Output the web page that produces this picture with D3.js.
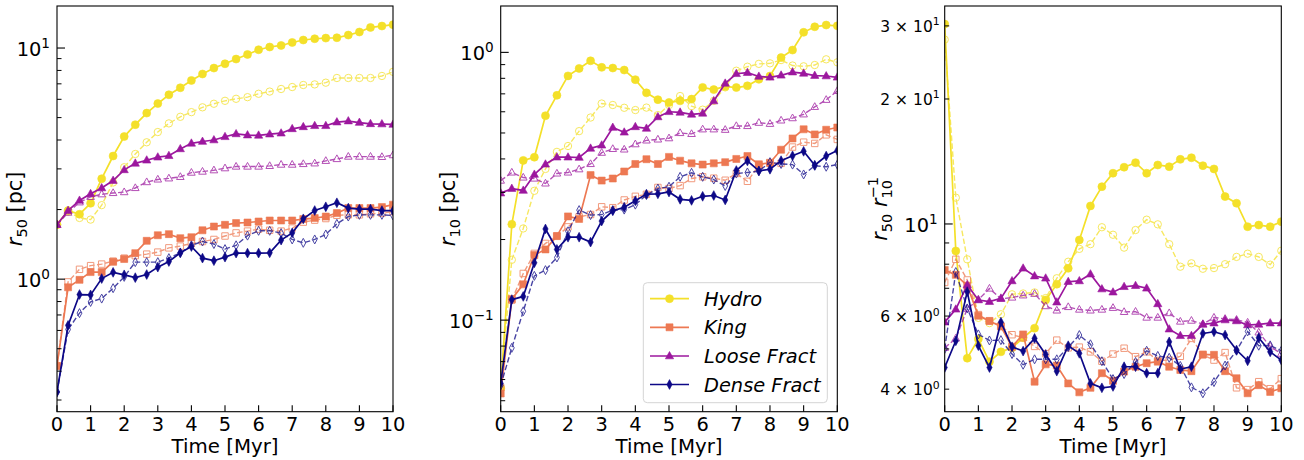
<!DOCTYPE html>
<html><head><meta charset="utf-8">
<script src="https://cdn.jsdelivr.net/npm/d3@7"></script>
<style>body{margin:0;background:#fff;} svg{display:block;font-family:'DejaVu Sans',sans-serif;} text{white-space:pre;}</style>
</head><body><svg id="c" width="1304" height="460"></svg>
<script>
const time = [0,0.33,0.67,1,1.33,1.67,2,2.33,2.67,3,3.33,3.67,4,4.33,4.67,5,5.33,5.67,6,6.33,6.67,7,7.33,7.67,8,8.33,8.67,9,9.33,9.67,10];
const labels = ["Hydro","King","Loose Fract","Dense Fract"];
const colors = ["#f4e02a","#ed7953","#9c179e","#0d0887"];
const markers = ["circle","square","triangle","thin_diamond"];
const xTicks = [0,1,2,3,4,5,6,7,8,9,10];

// r50 [pc] : solid (filled) and dashed (open)
const r50Hydro = [1.72,1.98,1.91,2.13,2.72,3.41,4.14,4.66,5.23,5.75,6.28,6.73,7.24,7.72,8.19,8.55,8.96,9.38,9.83,10.1,10.26,10.57,10.83,10.97,11.04,11.08,11.38,11.73,12.28,12.45,12.62];
const r50HydroOpen = [1.72,1.96,1.84,1.81,2.09,2.62,3.05,3.48,3.91,4.33,4.72,5.04,5.28,5.54,5.74,5.91,6.03,6.13,6.34,6.48,6.65,6.78,6.92,6.96,7.08,7.42,7.42,7.42,7.42,7.57,7.89];
const r50King = [0.421,0.922,0.993,1.073,1.073,1.188,1.222,1.296,1.465,1.549,1.566,1.504,1.519,1.627,1.689,1.718,1.748,1.758,1.776,1.794,1.794,1.794,1.819,1.837,1.866,1.931,2.03,2.03,2.03,2.05,2.10];
const r50KingOpen = [0.421,0.973,1.103,1.144,1.162,1.196,1.233,1.264,1.283,1.309,1.366,1.390,1.427,1.455,1.485,1.537,1.585,1.614,1.646,1.627,1.614,1.663,1.765,1.800,1.829,1.889,1.898,1.898,1.917,1.931,1.961];
const r50Loose = [1.72,1.98,2.19,2.34,2.48,2.67,2.97,3.17,3.27,3.37,3.42,3.66,3.87,3.94,4.00,4.13,4.25,4.20,4.19,4.24,4.28,4.47,4.56,4.61,4.61,4.78,4.83,4.76,4.70,4.69,4.67];
const r50LooseOpen = [1.72,1.94,2.15,2.27,2.33,2.36,2.38,2.48,2.63,2.70,2.73,2.77,2.89,2.92,2.96,3.02,3.07,3.07,3.07,3.09,3.13,3.13,3.15,3.17,3.25,3.31,3.39,3.39,3.39,3.38,3.44];
const r50Dense = [0.325,0.631,0.858,0.855,1.006,1.070,1.044,1.015,1.047,1.127,1.192,1.300,1.384,1.233,1.202,1.245,1.296,1.296,1.296,1.300,1.475,1.586,1.824,1.981,2.056,2.14,2.03,2.01,2.01,1.98,1.98];
const r50DenseOpen = [0.325,0.606,0.713,0.797,0.824,0.914,1.023,1.185,1.185,1.185,1.233,1.300,1.401,1.455,1.419,1.349,1.401,1.543,1.619,1.619,1.582,1.485,1.436,1.485,1.561,1.735,1.866,1.898,1.898,1.898,1.885];

// r10 [pc]
const r10Hydro = [0.0556,0.228,0.395,0.406,0.580,0.691,0.817,0.871,0.930,0.879,0.874,0.859,0.791,0.706,0.666,0.650,0.659,0.669,0.740,0.726,0.746,0.739,0.750,0.793,0.816,0.956,1.020,1.188,1.246,1.265,1.256];
const r10HydroOpen = [0.056,0.168,0.220,0.304,0.367,0.425,0.447,0.508,0.571,0.644,0.636,0.621,0.609,0.622,0.583,0.636,0.687,0.630,0.611,0.659,0.740,0.854,0.884,0.906,0.910,0.936,0.893,0.887,0.897,0.942,0.918];
const r10King = [0.0532,0.1198,0.136,0.175,0.1837,0.206,0.244,0.2388,0.348,0.332,0.338,0.359,0.383,0.399,0.383,0.407,0.394,0.385,0.381,0.385,0.389,0.400,0.410,0.382,0.387,0.433,0.477,0.516,0.494,0.514,0.524];
const r10KingOpen = [0.056,0.1188,0.1494,0.1775,0.1934,0.206,0.223,0.243,0.248,0.265,0.263,0.281,0.290,0.295,0.313,0.310,0.318,0.338,0.343,0.339,0.333,0.353,0.330,0.378,0.385,0.385,0.443,0.462,0.457,0.492,0.473];
const r10Loose = [0.298,0.310,0.305,0.350,0.382,0.406,0.406,0.405,0.438,0.450,0.524,0.503,0.527,0.520,0.574,0.600,0.597,0.587,0.592,0.658,0.766,0.832,0.840,0.813,0.807,0.821,0.844,0.835,0.819,0.816,0.807];
const r10LooseOpen = [0.332,0.356,0.341,0.338,0.324,0.353,0.356,0.366,0.383,0.422,0.436,0.434,0.454,0.469,0.473,0.478,0.500,0.496,0.516,0.516,0.514,0.531,0.531,0.546,0.541,0.557,0.568,0.587,0.626,0.665,0.718];
const r10Dense = [0.058,0.1193,0.1226,0.1637,0.219,0.1837,0.204,0.204,0.1956,0.2344,0.256,0.264,0.279,0.2955,0.2963,0.301,0.2826,0.280,0.290,0.292,0.281,0.362,0.393,0.361,0.366,0.394,0.411,0.427,0.379,0.410,0.430];
const r10DenseOpen = [0.057,0.0788,0.1079,0.1463,0.1537,0.1714,0.2147,0.2576,0.2468,0.2478,0.2576,0.2587,0.270,0.293,0.310,0.315,0.343,0.355,0.343,0.335,0.317,0.3527,0.356,0.360,0.389,0.383,0.381,0.350,0.377,0.374,0.381];

// r50 / r10
const ratioHydro = [30.3,8.61,4.75,5.28,4.66,4.92,5.03,5.32,5.61,6.56,7.16,7.82,9.15,11.05,12.30,13.25,13.70,14.05,13.25,13.87,13.74,14.31,14.44,13.82,13.57,11.64,11.22,9.85,9.94,9.85,10.13];
const ratioHydroOpen = [27.8,11.57,8.22,5.94,5.77,6.06,6.77,6.80,6.84,6.63,7.40,8.11,8.71,8.94,9.82,9.42,8.77,9.67,10.24,9.98,8.94,7.89,8.04,7.80,7.83,8.00,8.33,8.48,8.33,7.98,8.62];
const ratioKing = [7.75,7.54,7.10,6.01,5.84,5.66,5.06,5.42,4.17,4.59,4.56,4.13,3.93,4.03,4.37,4.19,4.41,4.53,4.62,4.66,4.53,4.45,4.42,4.85,4.84,4.42,4.25,3.91,4.09,3.94,4.02];
const ratioKingOpen = [7.23,8.22,7.33,6.05,5.84,5.68,5.41,5.32,5.07,4.87,5.25,5.03,5.05,4.92,4.67,4.86,5.02,4.79,4.92,4.69,4.70,4.80,5.30,4.84,4.70,4.90,4.03,3.99,4.17,4.01,4.24];
const ratioLoose = [5.80,6.23,7.13,6.56,6.50,6.62,7.29,7.82,7.49,7.40,6.48,7.26,7.29,7.57,6.97,6.85,7.06,7.10,7.00,6.42,5.58,5.38,5.38,5.73,5.77,5.87,5.84,5.71,5.73,5.77,5.77];
const ratioLooseOpen = [5.03,5.30,6.25,6.57,6.99,6.60,6.65,6.73,6.79,6.34,6.19,6.31,6.22,6.19,6.22,6.28,6.14,6.15,5.95,5.95,6.10,5.82,5.85,5.74,5.95,5.91,5.88,5.79,5.48,5.07,4.87];
const ratioDense = [4.51,5.23,6.87,5.09,4.51,5.80,5.06,4.94,5.30,4.85,4.42,5.09,4.88,4.13,4.03,4.06,4.53,4.53,4.37,4.37,5.20,4.47,4.53,5.45,5.50,5.40,4.97,4.68,5.32,4.92,4.70];
const ratioDenseOpen = [5.0,7.66,6.26,5.42,5.24,5.25,4.86,4.58,4.72,4.72,4.72,5.05,5.40,5.13,4.67,4.23,4.35,4.65,4.95,4.81,4.76,4.55,4.04,3.91,4.16,4.56,4.95,5.51,5.09,5.10,4.95];

// tick definitions
const p1Major = [1,10], p1MajorExp = ["0","1"];
const p1Minor = [0.3,0.4,0.5,0.6,0.7,0.8,0.9,2,3,4,5,6,7,8,9];
const p2Major = [0.1,1], p2MajorExp = ["\u22121","0"];
const p2Minor = [0.05,0.06,0.07,0.08,0.09,0.2,0.3,0.4,0.5,0.6,0.7,0.8,0.9];
const p3Major = [10], p3MajorExp = ["1"];
const p3Minor = [4,5,6,7,8,9,20,30];
const p3MinorLabeled = [4,6,20,30], p3MinorMant = ["4","6","2","3"], p3MinorExp = ["0","0","1","1"];

const svg = d3.select("#c");
const TOP = 6, BOT = 411.7;

const panels = [
  {x0:57, x1:393, domain:[0.267,15.2], solid:[r50Hydro,r50King,r50Loose,r50Dense], open:[r50HydroOpen,r50KingOpen,r50LooseOpen,r50DenseOpen],
   major:p1Major, majorExp:p1MajorExp, minor:p1Minor, minorLab:[], ylab:[{t:"r",it:1},{t:"50",pos:"sub"},{t:"\u00a0[pc]"}], labX:22},
  {x0:500.7, x1:837.3, domain:[0.0455,1.49], solid:[r10Hydro,r10King,r10Loose,r10Dense], open:[r10HydroOpen,r10KingOpen,r10LooseOpen,r10DenseOpen],
   major:p2Major, majorExp:p2MajorExp, minor:p2Minor, minorLab:[], ylab:[{t:"r",it:1},{t:"10",pos:"sub"},{t:"\u00a0[pc]"}], labX:455, legend:true},
  {x0:944.7, x1:1281.3, domain:[3.53,33.5], solid:[ratioHydro,ratioKing,ratioLoose,ratioDense], open:[ratioHydroOpen,ratioKingOpen,ratioLooseOpen,ratioDenseOpen],
   major:p3Major, majorExp:p3MajorExp, minor:p3Minor, minorLab:p3MinorLabeled,
   ylab:[{t:"r",it:1},{t:"50",pos:"sub"},{t:"\u00a0"},{t:"r",it:1},{t:"\u22121",pos:"sup"},{t:"10",pos:"sub",stack:1}], labX:887}
];

function markerPath(type, s){
  const h = s/2;
  if(type==="circle") return d3.symbol(d3.symbolCircle, Math.PI*h*h)();
  if(type==="square") return `M${-h},${-h}H${h}V${h}H${-h}Z`;
  if(type==="triangle") return `M0,${-h*1.2}L${h*1.1},${h*0.75}L${-h*1.1},${h*0.75}Z`;
  return `M0,${-h*1.15}L${h*0.62},0L0,${h*1.15}L${-h*0.62},0Z`;
}
const mSize = {circle:8, square:7, triangle:7.5, thin_diamond:8.5};

function mathText(g, parts, fs){
  let x = 0, lastStart = 0;
  parts.forEach(p=>{
    const pos = p.pos||"base";
    const size = pos==="base" ? fs : fs*0.7;
    const dy = pos==="sub" ? fs*0.24 : pos==="sup" ? -fs*0.42 : 0;
    const start = p.stack ? lastStart : x;
    const t = g.append("text").attr("x",start).attr("y",dy).attr("font-size",size)
      .attr("font-style",p.it?"italic":"normal").attr("fill","#000").text(p.t);
    const w = t.node().getComputedTextLength();
    if(!p.stack) lastStart = start;
    x = Math.max(x, start+w);
  });
  return x;
}

panels.forEach((P,pi)=>{
  const x = d3.scaleLinear().domain([0,10]).range([P.x0,P.x1]);
  const y = d3.scaleLog().domain(P.domain).range([BOT,TOP]);
  const g = svg.append("g");
  const cid = "clip"+pi;
  svg.append("clipPath").attr("id",cid).append("rect").attr("x",P.x0).attr("y",TOP).attr("width",P.x1-P.x0).attr("height",BOT-TOP);
  const plot = g.append("g").attr("clip-path",`url(#${cid})`);
  const line = d3.line().x((d,i)=>x(time[i])).y(d=>y(d));
  for(let k=0;k<4;k++){
    const s = plot.append("g");
    s.append("path").attr("d",line(P.solid[k])).attr("fill","none").attr("stroke",colors[k]).attr("stroke-width",1.7);
    s.selectAll("path.m").data(P.solid[k]).enter().append("path").attr("class","m")
      .attr("d",markerPath(markers[k],mSize[markers[k]]))
      .attr("transform",(d,i)=>`translate(${x(time[i])},${y(d)})`)
      .attr("fill",colors[k]).attr("stroke",colors[k]).attr("stroke-width",0.6);
    const o = plot.append("g").attr("opacity",0.75);
    o.append("path").attr("d",line(P.open[k])).attr("fill","none").attr("stroke",colors[k]).attr("stroke-width",1.4).attr("stroke-dasharray","5.5,2.5");
    o.selectAll("path.m").data(P.open[k]).enter().append("path").attr("class","m")
      .attr("d",markerPath(markers[k],mSize[markers[k]]*0.92))
      .attr("transform",(d,i)=>`translate(${x(time[i])},${y(d)})`)
      .attr("fill","none").attr("stroke",colors[k]).attr("stroke-width",1);
  }
  g.append("rect").attr("x",P.x0).attr("y",TOP).attr("width",P.x1-P.x0).attr("height",BOT-TOP)
    .attr("fill","none").attr("stroke","#000").attr("stroke-width",1.1);
  xTicks.forEach(t=>{
    g.append("line").attr("x1",x(t)).attr("x2",x(t)).attr("y1",BOT).attr("y2",BOT-6.5).attr("stroke","#000").attr("stroke-width",1.1);
    g.append("text").attr("x",x(t)).attr("y",BOT+19.5).attr("text-anchor","middle").attr("font-size",19.4).text(t);
  });
  g.append("text").attr("x",(P.x0+P.x1)/2).attr("y",453).attr("text-anchor","middle").attr("font-size",19.8).text("Time [Myr]");
  P.minor.forEach(t=>{
    g.append("line").attr("x1",P.x0).attr("x2",P.x0+4.5).attr("y1",y(t)).attr("y2",y(t)).attr("stroke","#000").attr("stroke-width",1);
  });
  P.major.forEach((t,j)=>{
    g.append("line").attr("x1",P.x0).attr("x2",P.x0+8).attr("y1",y(t)).attr("y2",y(t)).attr("stroke","#000").attr("stroke-width",1.1);
    const tx = g.append("text").attr("x",P.x0-7).attr("y",y(t)+8).attr("text-anchor","end").attr("font-size",19.4);
    tx.append("tspan").text("10");
    tx.append("tspan").attr("dy",-8).attr("font-size",13.6).text(P.majorExp[j]);
  });
  P.minorLab.forEach((t,j)=>{
    const tx = g.append("text").attr("x",P.x0-5).attr("y",y(t)+6).attr("text-anchor","end").attr("font-size",15.5);
    tx.append("tspan").text(p3MinorMant[j]+" \u00d7 10");
    tx.append("tspan").attr("dy",-6.5).attr("font-size",10.9).text(p3MinorExp[j]);
  });
  const lg = svg.append("g").attr("transform",`translate(${P.labX},${(TOP+BOT)/2}) rotate(-90)`);
  const inner = lg.append("g");
  const w = mathText(inner, P.ylab, 20.8);
  inner.attr("transform",`translate(${-w/2},0)`);

  if(P.legend){
    const L = svg.append("g");
    L.append("rect").attr("x",643.3).attr("y",282.7).attr("width",184).attr("height",120).attr("rx",4)
      .attr("fill","#fff").attr("fill-opacity",0.8).attr("stroke","#d4d4d4").attr("stroke-width",1);
    const rows = [298.7,327.3,356,384.5];
    labels.forEach((lab,k)=>{
      L.append("line").attr("x1",650).attr("x2",689).attr("y1",rows[k]).attr("y2",rows[k]).attr("stroke",colors[k]).attr("stroke-width",1.7);
      L.append("path").attr("d",markerPath(markers[k],mSize[markers[k]])).attr("transform",`translate(669.5,${rows[k]})`)
        .attr("fill",colors[k]).attr("stroke",colors[k]).attr("stroke-width",0.6);
      L.append("text").attr("x",704).attr("y",rows[k]+7).attr("font-size",19.4).attr("font-style","italic").text(lab);
    });
  }
});
</script></body></html>
